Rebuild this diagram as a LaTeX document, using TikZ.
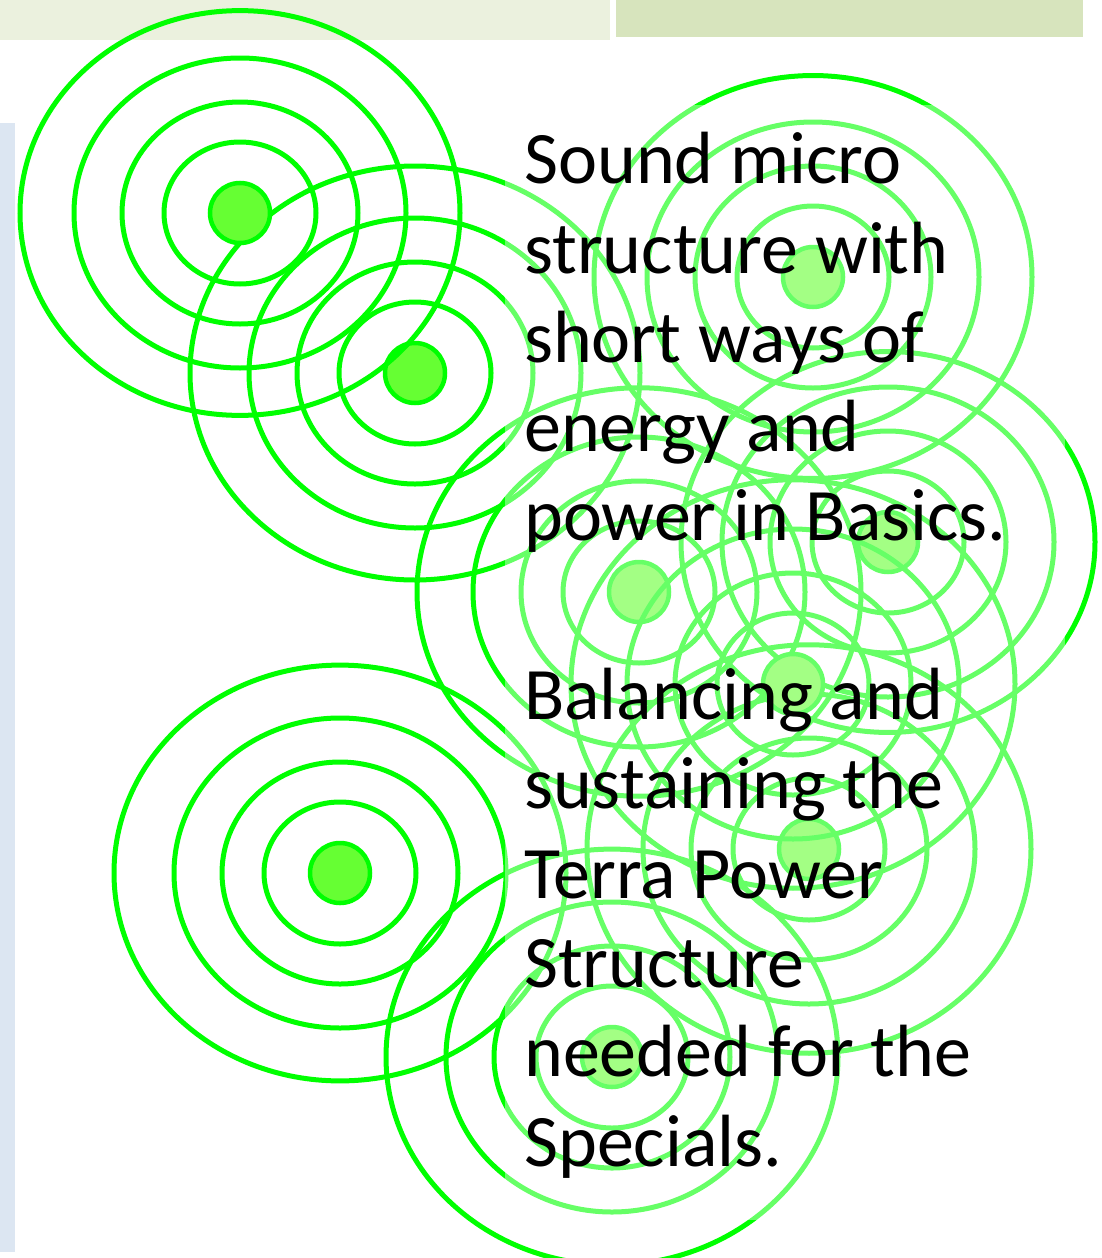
\documentclass[tikz,border=0pt]{standalone}
\usepackage{fontspec}
\setmainfont{Carlito}
\usepackage{tikz}
\definecolor{ringG}{HTML}{00FF00}
\definecolor{dotG}{HTML}{66FF33}
\definecolor{barL}{HTML}{EBF1DE}
\definecolor{barD}{HTML}{D7E4BD}
\definecolor{sideB}{HTML}{DCE6F2}
\tikzset{
  ring/.style={draw=ringG, line width=5pt},
  dot/.style={circle, draw=ringG, fill=dotG, line width=4.5pt, minimum size=60pt, inner sep=0pt},
  veil/.style={fill=white, fill opacity=0.4},
  bigtxt/.style={inner sep=0pt, align=left, font=\fontsize{74}{89.3}\selectfont},
}

\begin{document}
\begin{tikzpicture}[x=1pt,y=-1pt]
    \useasboundingbox (0,0) rectangle (1102,1258);
    \fill[barL] (0,0) rectangle (610,40);
    \fill[barD] (616,0) rectangle (1083,37);
    \fill[sideB] (0,123) rectangle (15,1252);
    % ripples: name/x/y/outer radius
    \foreach \n/\cx/\cy/\o in {B/415/373/225, A/240/213/220, C/340/873/226,
        E/639/592/222, G/888/542/207, H/809/849/222, F/793/684/222,
        I/813/277/219, D/612/1057/226}{
      \coordinate (c\n) at (\cx,\cy);
      \foreach \rx/\ry in {76/71,118/111,166/155}
        \draw[ring] (c\n) ellipse [x radius=\rx pt, y radius=\ry pt];
      \draw[ring] (c\n) ellipse [x radius=\o pt, y radius=0.92*\o pt];
      \node[dot] (d\n) at (c\n) {};
    }
    \fill[veil] (505,105) rectangle (1065,1220);
    % last line's baseline
    \node[bigtxt, anchor=base west] (txt) at (524,1166)
      {Sound micro\\ structure with\\ short ways of\\ energy and\\ power in Basics.\\[89.3pt]
       Balancing and\\ sustaining the\\ Terra Power\\ Structure\\ needed for the\\ Specials.};
\end{tikzpicture}
\end{document}
